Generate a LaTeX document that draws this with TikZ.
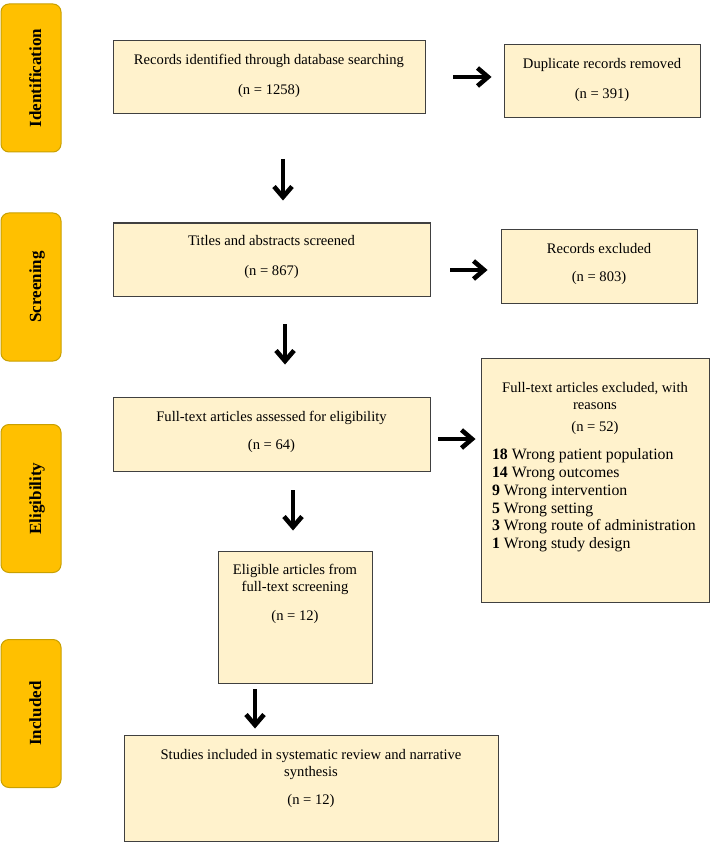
\documentclass[tikz,border=0pt]{standalone}
\usepackage{fontspec}
\setmainfont{Liberation Serif}
\usetikzlibrary{arrows.meta}
\definecolor{boxfill}{HTML}{FFF2CC}
\definecolor{boxline}{HTML}{404040}
\definecolor{tabfill}{HTML}{FFC000}
\definecolor{tabline}{HTML}{C9A000}
\newcommand\boxtxt[4]{\parbox[c][#2][t]{#1}{\centering\fontsize{14.6}{17.5}\selectfont\rule{0pt}{#3}#4}}
\tikzset{
  box/.style={draw=boxline, fill=boxfill, line width=1pt, inner sep=0pt, rectangle},
  tab/.style={draw=tabline, fill=tabfill, line width=1pt, rounded corners=8pt, rotate=90,
    minimum width=148pt, minimum height=60pt, inner sep=0pt,
    font=\fontsize{17}{20}\selectfont\bfseries, text height=22pt, text depth=2pt},
  shaft/.style={line width=4.2pt, shorten >=3pt},
  chev/.pic={\draw[line width=4.6pt, line join=miter, line cap=butt] (-13.5,-9) -- (-3,0) -- (-13.5,9);},
}
\begin{document}
\begin{tikzpicture}[x=1pt,y=-1pt]
\useasboundingbox (0,0) rectangle (712,842);
% phase tabs
\node[tab] (tid)  at (31,78)    {Identification};
\node[tab] (tscr) at (31,287)   {Screening};
\node[tab] (tel)  at (31,498.5) {Eligibility};
\node[tab] (tinc) at (31,713.5) {Included};
% boxes
\node[box] (rec) at (269,77.5)  {\boxtxt{312pt}{73pt}{24pt}{Records identified through database searching\\[11.8pt](n = 1258)}};
\node[box] (dup) at (602,81.5)  {\boxtxt{196pt}{73pt}{24pt}{Duplicate records removed\\[11.8pt](n = 391)}};
\node[box] (tit) at (271.5,259.5) {\boxtxt{317pt}{73pt}{22.7pt}{Titles and abstracts screened\\[11.8pt](n = 867)}};
\node[box] (rex) at (599,266)   {\boxtxt{196pt}{74pt}{24.3pt}{Records excluded\\[10.9pt](n = 803)}};
\node[box] (fta) at (271.5,434) {\boxtxt{317pt}{74pt}{24pt}{Full-text articles assessed for eligibility\\[10.8pt](n = 64)}};
\node[box] (fte) at (595,480) {\parbox[c][244pt][t]{228pt}{\centering\fontsize{14.6}{17}\selectfont\rule{0pt}{34.7pt}Full-text articles excluded, with\\reasons\\[5pt](n = 52)\par\vspace{10.2pt}\raggedright\leftskip=11pt\fontsize{15.8}{17.8}\selectfont
\textbf{18} Wrong patient population\\
\textbf{14} Wrong outcomes\\
\textbf{9} Wrong intervention\\
\textbf{5} Wrong setting\\
\textbf{3} Wrong route of administration\\
\textbf{1} Wrong study design\par}};
\node[box] (eli) at (295,617) {\boxtxt{154pt}{132pt}{23pt}{Eligible articles from\\full-text screening\\[11pt](n = 12)}};
\node[box] (inc) at (311,788) {\boxtxt{374pt}{106pt}{24pt}{Studies included in systematic review and narrative\\synthesis\\[10.8pt](n = 12)}};
% arrow ends
\coordinate (a1s) at (453,77);  \coordinate (a1e) at (491,77);
\coordinate (d1s) at (283,159); \coordinate (d1e) at (283,200);
\coordinate (a2s) at (450,270); \coordinate (a2e) at (487,270);
\coordinate (d2s) at (285,324); \coordinate (d2e) at (285,364);
\coordinate (a3s) at (438,439); \coordinate (a3e) at (475,439);
\coordinate (d3s) at (293,490); \coordinate (d3e) at (293,530);
\coordinate (d4s) at (255,689); \coordinate (d4e) at (255,728);
% horizontal arrows
\draw[shaft] (a1s) -- (a1e); \pic at (a1e) {chev};
\draw[shaft] (a2s) -- (a2e); \pic at (a2e) {chev};
\draw[shaft] (a3s) -- (a3e); \pic at (a3e) {chev};
% vertical arrows
\draw[shaft] (d1s) -- (d1e); \pic[rotate=-90] at (d1e) {chev};
\draw[shaft] (d2s) -- (d2e); \pic[rotate=-90] at (d2e) {chev};
\draw[shaft] (d3s) -- (d3e); \pic[rotate=-90] at (d3e) {chev};
\draw[shaft] (d4s) -- (d4e); \pic[rotate=-90] at (d4e) {chev};
\end{tikzpicture}
\end{document}
